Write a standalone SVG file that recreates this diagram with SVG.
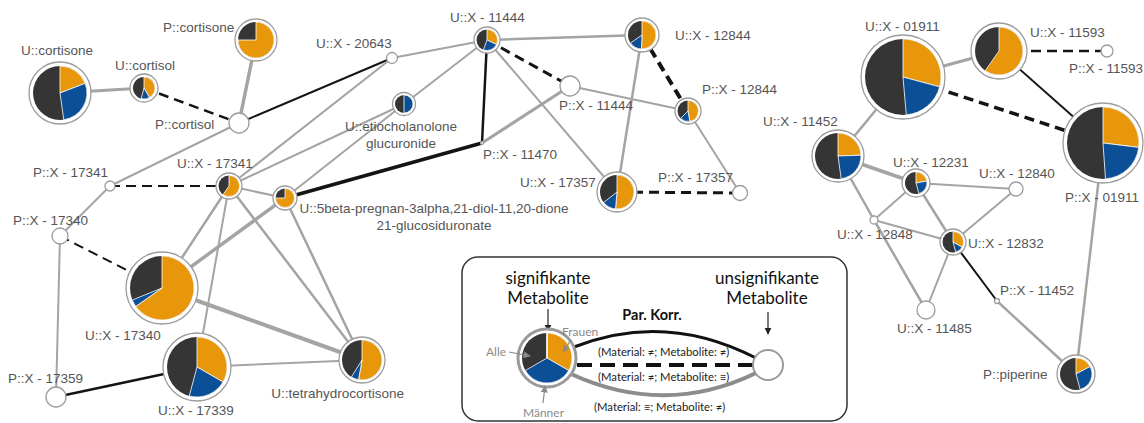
<svg xmlns="http://www.w3.org/2000/svg" width="1144" height="423" viewBox="0 0 1144 423">
<defs>
<style>
.e{fill:none;stroke:#a4a4a4;stroke-linecap:round}
.k{fill:none;stroke:#141414}
.d{fill:none;stroke:#141414;stroke-dasharray:10 6}
.ring{fill:#fff;stroke:#9c9c9c;stroke-width:1.3}
.dk{fill:#353535}
.or{fill:#E8960A;stroke:#fff;stroke-width:0.8;stroke-linejoin:round}
.bl{fill:#0B4F96;stroke:#fff;stroke-width:0.8;stroke-linejoin:round}
.lbl{font-family:"Liberation Sans",Arial,sans-serif;font-size:13.5px;fill:#555}
.lg{font-family:Lato,"Open Sans",sans-serif;fill:#111}
.lgs{font-family:Lato,"Open Sans",sans-serif;font-size:11.3px;fill:#222}
.lgg{font-family:Lato,"Open Sans",sans-serif;font-size:12px;fill:#8a8a8a}
</style>
<marker id="ah" viewBox="0 0 10 10" refX="9" refY="5" markerWidth="6" markerHeight="6" orient="auto-start-reverse"><path d="M0 0 L10 5 L0 10 Z" fill="#222"/></marker>
<marker id="ahg" viewBox="0 0 10 10" refX="9" refY="5" markerWidth="6" markerHeight="6" orient="auto-start-reverse"><path d="M0 0 L10 5 L0 10 Z" fill="#8a8a8a"/></marker>
</defs>
<rect width="1144" height="423" fill="#fff"/>

<g id="connectors">
<line class="e" x1="60" y1="93" x2="144" y2="88" stroke-width="3"/>
<line class="d" x1="144" y1="88" x2="239" y2="123" stroke-width="2.5"/>
<line class="e" x1="256" y1="40" x2="239" y2="123" stroke-width="3.5"/>
<line class="k" x1="239" y1="123" x2="392" y2="58" stroke-width="2"/>
<line class="e" x1="239" y1="123" x2="110" y2="186" stroke-width="2"/>
<line class="d" x1="110" y1="186" x2="229" y2="186" stroke-width="2"/>
<line class="e" x1="110" y1="186" x2="60" y2="236" stroke-width="2"/>
<line class="d" x1="60" y1="236" x2="162" y2="288" stroke-width="2"/>
<line class="e" x1="60" y1="236" x2="56" y2="397" stroke-width="2"/>
<line class="k" x1="56" y1="397" x2="197" y2="367" stroke-width="2.5"/>
<line class="e" x1="229" y1="186" x2="162" y2="288" stroke-width="2.5"/>
<line class="e" x1="229" y1="186" x2="197" y2="367" stroke-width="2"/>
<line class="e" x1="229" y1="186" x2="362" y2="360" stroke-width="2.5"/>
<line class="e" x1="229" y1="186" x2="285" y2="198" stroke-width="2"/>
<line class="e" x1="229" y1="186" x2="392" y2="58" stroke-width="2"/>
<line class="e" x1="229" y1="186" x2="404" y2="104" stroke-width="2"/>
<line class="e" x1="162" y1="288" x2="285" y2="198" stroke-width="3.5"/>
<line class="e" x1="162" y1="288" x2="362" y2="360" stroke-width="4"/>
<line class="e" x1="197" y1="367" x2="362" y2="360" stroke-width="2"/>
<line class="e" x1="285" y1="198" x2="362" y2="360" stroke-width="2.5"/>
<line class="e" x1="285" y1="198" x2="404" y2="104" stroke-width="2"/>
<line class="e" x1="392" y1="58" x2="487" y2="40" stroke-width="2"/>
<line class="e" x1="404" y1="104" x2="487" y2="40" stroke-width="2"/>
<line class="k" x1="487" y1="40" x2="482" y2="143" stroke-width="2.5"/>
<line class="k" x1="482" y1="143" x2="285" y2="198" stroke-width="3.5"/>
<line class="e" x1="482" y1="143" x2="570" y2="86" stroke-width="3"/>
<line class="d" x1="487" y1="40" x2="570" y2="86" stroke-width="3"/>
<line class="e" x1="487" y1="40" x2="642" y2="35" stroke-width="2.5"/>
<line class="e" x1="487" y1="40" x2="617" y2="192" stroke-width="2"/>
<line class="e" x1="570" y1="86" x2="688" y2="111" stroke-width="2"/>
<line class="d" x1="642" y1="35" x2="688" y2="111" stroke-width="4" stroke-dasharray="12 6"/>
<line class="e" x1="642" y1="35" x2="617" y2="192" stroke-width="2.5"/>
<line class="e" x1="688" y1="111" x2="740" y2="193" stroke-width="2"/>
<line class="d" x1="617" y1="192" x2="740" y2="193" stroke-width="3"/>

<line class="e" x1="903" y1="77" x2="999" y2="51" stroke-width="3"/>
<line class="d" x1="903" y1="77" x2="1103" y2="143" stroke-width="3.5" stroke-dasharray="11 6"/>
<line class="d" x1="999" y1="51" x2="1107" y2="51" stroke-width="2.5"/>
<line class="k" x1="999" y1="51" x2="1103" y2="143" stroke-width="2"/>
<line class="e" x1="903" y1="77" x2="838" y2="156" stroke-width="2.5"/>
<line class="e" x1="838" y1="156" x2="916" y2="183" stroke-width="3.5"/>
<line class="e" x1="838" y1="156" x2="874" y2="220" stroke-width="2.5"/>
<line class="e" x1="916" y1="183" x2="1016" y2="189" stroke-width="2"/>
<line class="e" x1="916" y1="183" x2="874" y2="220" stroke-width="2"/>
<line class="e" x1="916" y1="183" x2="953" y2="242" stroke-width="2.5"/>
<line class="e" x1="1016" y1="189" x2="953" y2="242" stroke-width="2"/>
<line class="e" x1="874" y1="220" x2="953" y2="242" stroke-width="2"/>
<line class="e" x1="874" y1="220" x2="926" y2="310" stroke-width="2.5"/>
<line class="e" x1="953" y1="242" x2="926" y2="310" stroke-width="2"/>
<line class="k" x1="953" y1="242" x2="997" y2="301" stroke-width="2"/>
<line class="e" x1="997" y1="301" x2="1076" y2="374" stroke-width="2.5"/>
<line class="e" x1="1103" y1="143" x2="1076" y2="374" stroke-width="2.5"/>
</g>

<g id="n-u-cortisone">
<circle class="ring" cx="60" cy="93" r="31"/>
<circle class="dk" cx="60" cy="93" r="27"/>
<path class="or" d="M60 93 L60 66 A27 27 0 0 1 85.21 83.32 Z"/>
<path class="bl" d="M60 93 L85.21 83.32 A27 27 0 0 1 63.76 119.74 Z"/>
<text class="lbl" x="21" y="55">U::cortisone</text>
</g>
<g id="n-u-cortisol">
<circle class="ring" cx="144" cy="88" r="14"/>
<circle class="dk" cx="144" cy="88" r="11"/>
<path class="or" d="M144 88 L144 77 A11 11 0 0 1 149.5 97.53 Z"/>
<path class="bl" d="M144 88 L149.5 97.53 A11 11 0 0 1 141.15 98.63 Z"/>
<text class="lbl" x="115" y="70">U::cortisol</text>
</g>
<g id="n-p-cortisone">
<circle class="ring" cx="256" cy="40" r="21"/>
<circle class="dk" cx="256" cy="40" r="18"/>
<path class="or" d="M256 40 L256 22 A18 18 0 1 1 238 40 Z"/>
<text class="lbl" x="163" y="32">P::cortisone</text>
</g>
<g id="n-p-cortisol">
<circle class="ring" cx="239" cy="123" r="10"/>
<text class="lbl" x="155" y="129">P::cortisol</text>
</g>
<g id="n-p-x-17341">
<circle class="ring" cx="110" cy="186" r="5"/>
<text class="lbl" x="33" y="177">P::X - 17341</text>
</g>
<g id="n-u-x-17341">
<circle class="ring" cx="229" cy="186" r="13"/>
<circle class="dk" cx="229" cy="186" r="10.5"/>
<path class="or" d="M229 186 L229 175.5 A10.5 10.5 0 1 1 222.98 194.6 Z"/>
<text class="lbl" x="177" y="168">U::X - 17341</text>
</g>
<g id="n-u-5beta">
<circle class="ring" cx="285" cy="198" r="12"/>
<circle class="dk" cx="285" cy="198" r="9.5"/>
<path class="or" d="M285 198 L285 188.5 A9.5 9.5 0 1 1 275.5 198 Z"/>
<text class="lbl" x="434" y="213" text-anchor="middle">U::5beta-pregnan-3alpha,21-diol-11,20-dione</text>
<text class="lbl" x="434" y="230" text-anchor="middle">21-glucosiduronate</text>
</g>
<g id="n-u-etiocholanolone">
<circle class="ring" cx="404" cy="104" r="11.5"/>
<circle class="dk" cx="404" cy="104" r="9"/>
<path class="bl" d="M404 104 L404 95 A9 9 0 0 1 404 113 Z"/>
<text class="lbl" x="401" y="131" text-anchor="middle">U::etiocholanolone</text>
<text class="lbl" x="401" y="148" text-anchor="middle">glucuronide</text>
</g>
<g id="n-u-x-20643">
<circle class="ring" cx="392" cy="58" r="5.5"/>
<text class="lbl" x="316" y="48">U::X - 20643</text>
</g>
<g id="n-u-x-11444">
<circle class="ring" cx="487" cy="40" r="13"/>
<circle class="dk" cx="487" cy="40" r="10.5"/>
<path class="or" d="M487 40 L487 29.5 A10.5 10.5 0 0 1 496.52 44.44 Z"/>
<path class="bl" d="M487 40 L496.52 44.44 A10.5 10.5 0 0 1 483.41 49.87 Z"/>
<text class="lbl" x="450" y="22">U::X - 11444</text>
</g>
<g id="n-p-x-11470">
<circle class="ring" cx="482" cy="143" r="1.5"/>
<text class="lbl" x="483" y="159">P::X - 11470</text>
</g>
<g id="n-p-x-11444">
<circle class="ring" cx="570" cy="86" r="10"/>
<text class="lbl" x="559" y="110">P::X - 11444</text>
</g>
<g id="n-u-x-12844">
<circle class="ring" cx="642" cy="35" r="17"/>
<circle class="dk" cx="642" cy="35" r="14"/>
<path class="or" d="M642 35 L642 21 A14 14 0 1 1 641.51 48.99 Z"/>
<path class="bl" d="M642 35 L641.51 48.99 A14 14 0 0 1 630.53 43.03 Z"/>
<text class="lbl" x="675" y="40">U::X - 12844</text>
</g>
<g id="n-p-x-12844">
<circle class="ring" cx="688" cy="111" r="13"/>
<circle class="dk" cx="688" cy="111" r="10.5"/>
<path class="or" d="M688 111 L688 100.5 A10.5 10.5 0 0 1 689.82 121.34 Z"/>
<path class="bl" d="M688 111 L689.82 121.34 A10.5 10.5 0 0 1 680.58 118.42 Z"/>
<text class="lbl" x="702" y="94">P::X - 12844</text>
</g>
<g id="n-u-x-17357">
<circle class="ring" cx="617" cy="192" r="20"/>
<circle class="dk" cx="617" cy="192" r="17"/>
<path class="or" d="M617 192 L617 175 A17 17 0 1 1 615.52 208.94 Z"/>
<path class="bl" d="M617 192 L615.52 208.94 A17 17 0 0 1 603.6 202.47 Z"/>
<text class="lbl" x="520" y="187">U::X - 17357</text>
</g>
<g id="n-p-x-17357">
<circle class="ring" cx="740" cy="193" r="7.5"/>
<text class="lbl" x="658" y="182">P::X - 17357</text>
</g>
<g id="n-p-x-17340">
<circle class="ring" cx="60" cy="236" r="8"/>
<text class="lbl" x="13" y="225">P::X - 17340</text>
</g>
<g id="n-u-x-17340">
<circle class="ring" cx="162" cy="288" r="36"/>
<circle class="dk" cx="162" cy="288" r="32"/>
<path class="or" d="M162 288 L162 256 A32 32 0 1 1 135.79 306.35 Z"/>
<path class="bl" d="M162 288 L135.79 306.35 A32 32 0 0 1 132.33 299.99 Z"/>
<text class="lbl" x="85" y="340">U::X - 17340</text>
</g>
<g id="n-u-x-17339">
<circle class="ring" cx="197" cy="367" r="34"/>
<circle class="dk" cx="197" cy="367" r="30"/>
<path class="or" d="M197 367 L197 337 A30 30 0 0 1 222.98 382 Z"/>
<path class="bl" d="M197 367 L222.98 382 A30 30 0 0 1 189.24 395.98 Z"/>
<text class="lbl" x="158" y="415">U::X - 17339</text>
</g>
<g id="n-p-x-17359">
<circle class="ring" cx="56" cy="397" r="10"/>
<text class="lbl" x="8" y="383">P::X - 17359</text>
</g>
<g id="n-u-tetrahydrocortisone">
<circle class="ring" cx="362" cy="360" r="23"/>
<circle class="dk" cx="362" cy="360" r="20"/>
<path class="or" d="M362 360 L362 340 A20 20 0 1 1 358.53 379.7 Z"/>
<path class="bl" d="M362 360 L358.53 379.7 A20 20 0 0 1 351.4 376.96 Z"/>
<text class="lbl" x="404" y="398" text-anchor="end">U::tetrahydrocortisone</text>
</g>

<g id="n-u-x-01911">
<circle class="ring" cx="903" cy="77" r="42"/>
<circle class="dk" cx="903" cy="77" r="38"/>
<path class="or" d="M903 77 L903 39 A38 38 0 0 1 939.7 86.83 Z"/>
<path class="bl" d="M903 77 L939.7 86.83 A38 38 0 0 1 906.31 114.86 Z"/>
<text class="lbl" x="865" y="31">U::X - 01911</text>
</g>
<g id="n-u-x-11593">
<circle class="ring" cx="999" cy="51" r="28"/>
<circle class="dk" cx="999" cy="51" r="24"/>
<path class="or" d="M999 51 L999 27 A24 24 0 1 1 985.23 70.66 Z"/>
<text class="lbl" x="1030" y="37">U::X - 11593</text>
</g>
<g id="n-p-x-11593">
<circle class="ring" cx="1107" cy="51" r="6"/>
<text class="lbl" x="1069" y="73">P::X - 11593</text>
</g>
<g id="n-p-x-01911">
<circle class="ring" cx="1103" cy="143" r="40"/>
<circle class="dk" cx="1103" cy="143" r="36"/>
<path class="or" d="M1103 143 L1103 107 A36 36 0 0 1 1138.73 147.39 Z"/>
<path class="bl" d="M1103 143 L1138.73 147.39 A36 36 0 0 1 1105.51 178.91 Z"/>
<text class="lbl" x="1065" y="202">P::X - 01911</text>
</g>
<g id="n-u-x-11452">
<circle class="ring" cx="838" cy="156" r="26"/>
<circle class="dk" cx="838" cy="156" r="23"/>
<path class="or" d="M838 156 L838 133 A23 23 0 0 1 860.99 155.2 Z"/>
<path class="bl" d="M838 156 L860.99 155.2 A23 23 0 0 1 841.2 178.78 Z"/>
<text class="lbl" x="763" y="126">U::X - 11452</text>
</g>
<g id="n-u-x-12231">
<circle class="ring" cx="916" cy="183" r="14"/>
<circle class="dk" cx="916" cy="183" r="11"/>
<path class="or" d="M916 183 L916 172 A11 11 0 0 1 926.83 181.09 Z"/>
<path class="bl" d="M916 183 L926.83 181.09 A11 11 0 0 1 918.85 193.62 Z"/>
<text class="lbl" x="893" y="167">U::X - 12231</text>
</g>
<g id="n-u-x-12840">
<circle class="ring" cx="1016" cy="189" r="7"/>
<text class="lbl" x="979" y="178">U::X - 12840</text>
</g>
<g id="n-u-x-12848">
<circle class="ring" cx="874" cy="220" r="4"/>
<text class="lbl" x="837" y="239">U::X - 12848</text>
</g>
<g id="n-u-x-12832">
<circle class="ring" cx="953" cy="242" r="13"/>
<circle class="dk" cx="953" cy="242" r="10.5"/>
<path class="or" d="M953 242 L953 231.5 A10.5 10.5 0 0 1 962.09 247.25 Z"/>
<path class="bl" d="M953 242 L962.09 247.25 A10.5 10.5 0 0 1 955.72 252.14 Z"/>
<text class="lbl" x="968" y="248">U::X - 12832</text>
</g>
<g id="n-u-x-11485">
<circle class="ring" cx="926" cy="310" r="9"/>
<text class="lbl" x="897" y="333">U::X - 11485</text>
</g>
<g id="n-p-x-11452">
<circle class="ring" cx="997" cy="301" r="2.5"/>
<text class="lbl" x="1000" y="295">P::X - 11452</text>
</g>
<g id="n-p-piperine">
<circle class="ring" cx="1076" cy="374" r="19"/>
<circle class="dk" cx="1076" cy="374" r="16"/>
<path class="or" d="M1076 374 L1076 358 A16 16 0 0 1 1090.13 366.49 Z"/>
<path class="bl" d="M1076 374 L1090.13 366.49 A16 16 0 0 1 1080.14 389.45 Z"/>
<text class="lbl" x="983" y="379">P::piperine</text>
</g>

<g id="legend">
<rect x="462" y="257" width="385" height="164" rx="16" fill="#fff" stroke="#333" stroke-width="1.5"/>
<text class="lg" x="548" y="284" font-size="17" text-anchor="middle">signifikante</text>
<text class="lg" x="548" y="304" font-size="17" text-anchor="middle">Metabolite</text>
<text class="lg" x="767" y="284" font-size="17" text-anchor="middle">unsignifikante</text>
<text class="lg" x="767" y="304" font-size="17" text-anchor="middle">Metabolite</text>
<line x1="548" y1="309" x2="548" y2="331" stroke="#222" stroke-width="1.2" marker-end="url(#ah)"/>
<line x1="768" y1="312" x2="768" y2="334" stroke="#222" stroke-width="1.2" marker-end="url(#ah)"/>
<text class="lg" x="652" y="320" font-size="14.5" font-weight="bold" text-anchor="middle">Par. Korr.</text>
<path d="M574 347 Q665 311 756 358" fill="none" stroke="#111" stroke-width="3"/>
<line x1="577" y1="365" x2="754" y2="365" stroke="#111" stroke-width="4" stroke-dasharray="15 8"/>
<path d="M571 374 Q665 417 756 373" fill="none" stroke="#8c8c8c" stroke-width="4"/>
<circle cx="547" cy="358" r="29" fill="#fff" stroke="#9a9a9a" stroke-width="3"/>
<circle class="dk" cx="547" cy="358" r="25"/>
<path class="or" d="M547 358 L547 333 A25 25 0 0 1 568.65 370.5 Z" stroke-width="1.5"/>
<path class="bl" d="M547 358 L568.65 370.5 A25 25 0 0 1 525.35 370.5 Z" stroke-width="1.5"/>
<line x1="547" y1="358" x2="547" y2="333" stroke="#fff" stroke-width="1.5"/>
<circle cx="768" cy="365" r="15" fill="#fff" stroke="#9a9a9a" stroke-width="2"/>
<text class="lgs" x="598" y="356">(Material: ≠; Metabolite: ≠)</text>
<text class="lgs" x="598" y="381">(Material: ≠; Metabolite: ≡)</text>
<text class="lgs" x="594" y="411">(Material: ≡; Metabolite: ≠)</text>
<text class="lgg" x="486" y="356">Alle</text>
<line x1="509" y1="352" x2="530" y2="356" stroke="#8a8a8a" stroke-width="1.2" marker-end="url(#ahg)"/>
<text class="lgg" x="562" y="336">Frauen</text>
<line x1="571" y1="340" x2="563" y2="352" stroke="#8a8a8a" stroke-width="1.2" marker-end="url(#ahg)"/>
<text class="lgg" x="523" y="417">Männer</text>
<line x1="543" y1="403" x2="545" y2="386" stroke="#8a8a8a" stroke-width="1.2" marker-end="url(#ahg)"/>
</g>
</svg>
